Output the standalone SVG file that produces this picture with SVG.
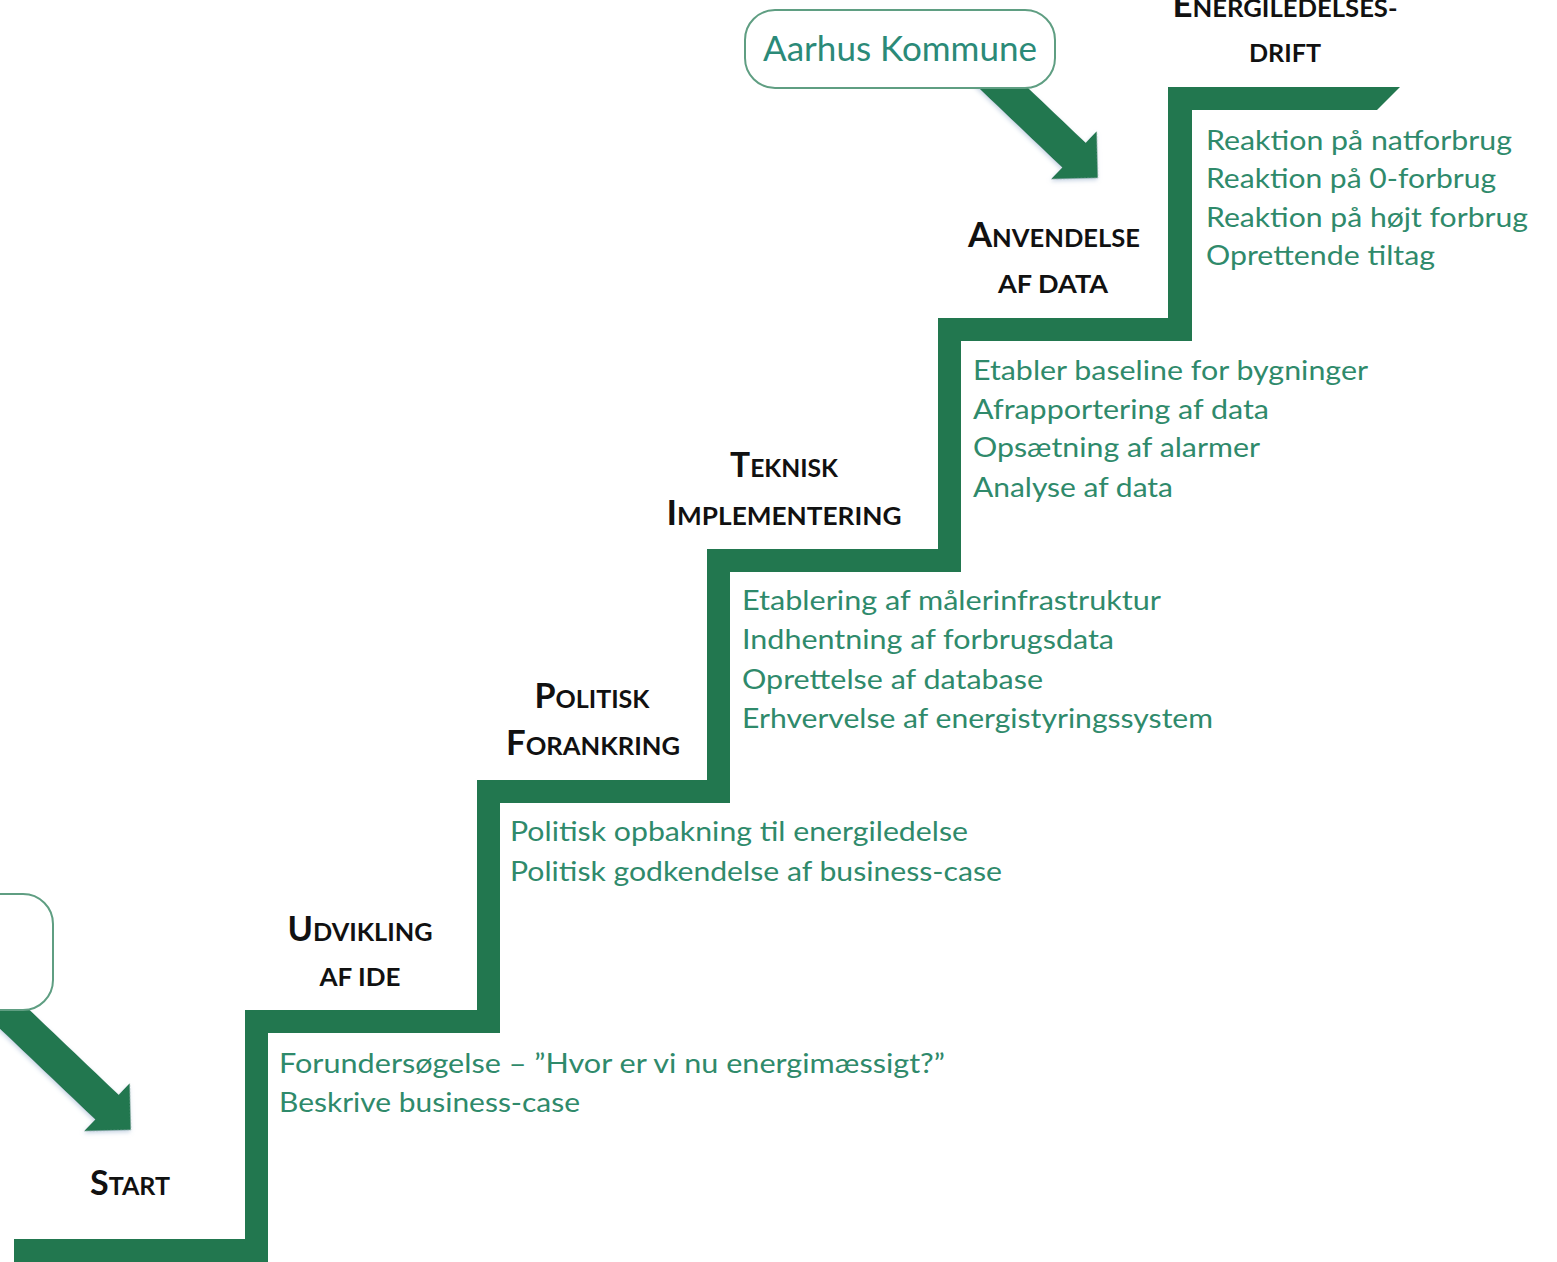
<svg xmlns="http://www.w3.org/2000/svg" width="1557" height="1262" viewBox="0 0 1557 1262">
  <defs>
    <style>
      .stair { fill: #22774f; }
      .arrow { fill: #22774f; }
      .box { fill: #ffffff; stroke: #5f9e82; stroke-width: 2; }
      .head { font-family: Lato, "Liberation Sans", sans-serif; font-weight: 700; fill: #111111; text-anchor: middle; }
      .big { font-size: 34px; }
      .sm { font-size: 25px; }
      .body { font-family: Lato, "Liberation Sans", sans-serif; font-size: 27px; fill: #2f8a6b; }
      .org { font-family: Lato, "Liberation Sans", sans-serif; font-size: 35px; fill: #2b8a78; text-anchor: middle; }
    </style>
    <filter id="sh" x="-20%" y="-20%" width="140%" height="140%">
      <feDropShadow dx="1" dy="2" stdDeviation="2" flood-color="#8fa8c8" flood-opacity="0.5"/>
    </filter>
  </defs>

  <g id="staircase">
    <polygon class="stair" points="14,1239 245,1239 245,1010 477,1010 477,780 707,780 707,549 938,549 938,318 1168,318 1168,87 1400,87 1377,110 1192,110 1192,341 961,341 961,572 730,572 730,803 500,803 500,1033 268,1033 268,1262 14,1262"/>
  </g>

  <g id="connectors">
    <polygon class="arrow" filter="url(#sh)" transform="translate(28,1032) rotate(43.6)" points="-40,-17 109,-17 109,-33 142,0 109,33 109,17 -40,17"/>
    <polygon class="arrow" filter="url(#sh)" transform="translate(995,80) rotate(43.6)" points="-20,-17 109,-17 109,-33 142,0 109,33 109,17 -20,17"/>
  </g>

  <g id="node-aarhus">
    <rect class="box" x="745" y="10" width="310" height="78" rx="30" ry="30"/>
    <text class="org" x="900" y="61" textLength="274" lengthAdjust="spacingAndGlyphs">Aarhus Kommune</text>
  </g>

  <g id="node-left-box">
    <rect class="box" x="-300" y="894" width="353" height="116" rx="30" ry="30"/>
  </g>

  <g id="node-start">
    <text class="head" x="130" y="1195" textLength="80" lengthAdjust="spacingAndGlyphs"><tspan class="big">S</tspan><tspan class="sm">TART</tspan></text>
  </g>

  <g id="node-udvikling">
    <text class="head" x="360" y="941" textLength="145" lengthAdjust="spacingAndGlyphs"><tspan class="big">U</tspan><tspan class="sm">DVIKLING</tspan></text>
    <text class="head sm" x="360" y="986" textLength="81" lengthAdjust="spacingAndGlyphs">AF IDE</text>
    <text class="body" x="279" y="1073" textLength="666" lengthAdjust="spacingAndGlyphs">Forundersøgelse – ”Hvor er vi nu energimæssigt?”</text>
    <text class="body" x="279" y="1112" textLength="301" lengthAdjust="spacingAndGlyphs">Beskrive business-case</text>
  </g>

  <g id="node-politisk">
    <text class="head" x="592" y="708" textLength="115" lengthAdjust="spacingAndGlyphs"><tspan class="big">P</tspan><tspan class="sm">OLITISK</tspan></text>
    <text class="head" x="593" y="755" textLength="174" lengthAdjust="spacingAndGlyphs"><tspan class="big">F</tspan><tspan class="sm">ORANKRING</tspan></text>
    <text class="body" x="510" y="841" textLength="458" lengthAdjust="spacingAndGlyphs">Politisk opbakning til energiledelse</text>
    <text class="body" x="510" y="881" textLength="492" lengthAdjust="spacingAndGlyphs">Politisk godkendelse af business-case</text>
  </g>

  <g id="node-teknisk">
    <text class="head" x="784" y="477" textLength="108" lengthAdjust="spacingAndGlyphs"><tspan class="big">T</tspan><tspan class="sm">EKNISK</tspan></text>
    <text class="head" x="784" y="525" textLength="235" lengthAdjust="spacingAndGlyphs"><tspan class="big">I</tspan><tspan class="sm">MPLEMENTERING</tspan></text>
    <text class="body" x="742" y="610" textLength="419" lengthAdjust="spacingAndGlyphs">Etablering af målerinfrastruktur</text>
    <text class="body" x="742" y="649" textLength="372" lengthAdjust="spacingAndGlyphs">Indhentning af forbrugsdata</text>
    <text class="body" x="742" y="689" textLength="301" lengthAdjust="spacingAndGlyphs">Oprettelse af database</text>
    <text class="body" x="742" y="728" textLength="471" lengthAdjust="spacingAndGlyphs">Erhvervelse af energistyringssystem</text>
  </g>

  <g id="node-anvendelse">
    <text class="head" x="1054" y="247" textLength="172" lengthAdjust="spacingAndGlyphs"><tspan class="big">A</tspan><tspan class="sm">NVENDELSE</tspan></text>
    <text class="head sm" x="1053" y="293" textLength="110" lengthAdjust="spacingAndGlyphs">AF DATA</text>
    <text class="body" x="973" y="380" textLength="395" lengthAdjust="spacingAndGlyphs">Etabler baseline for bygninger</text>
    <text class="body" x="973" y="419" textLength="296" lengthAdjust="spacingAndGlyphs">Afrapportering af data</text>
    <text class="body" x="973" y="457" textLength="287" lengthAdjust="spacingAndGlyphs">Opsætning af alarmer</text>
    <text class="body" x="973" y="497" textLength="200" lengthAdjust="spacingAndGlyphs">Analyse af data</text>
  </g>

  <g id="node-drift">
    <text class="head" x="1285" y="17" textLength="225" lengthAdjust="spacingAndGlyphs"><tspan class="big">E</tspan><tspan class="sm">NERGILEDELSES-</tspan></text>
    <text class="head sm" x="1285" y="62" textLength="72" lengthAdjust="spacingAndGlyphs">DRIFT</text>
    <text class="body" x="1206" y="150" textLength="306" lengthAdjust="spacingAndGlyphs">Reaktion på natforbrug</text>
    <text class="body" x="1206" y="188" textLength="290" lengthAdjust="spacingAndGlyphs">Reaktion på 0-forbrug</text>
    <text class="body" x="1206" y="227" textLength="322" lengthAdjust="spacingAndGlyphs">Reaktion på højt forbrug</text>
    <text class="body" x="1206" y="265" textLength="229" lengthAdjust="spacingAndGlyphs">Oprettende tiltag</text>
  </g>
</svg>
